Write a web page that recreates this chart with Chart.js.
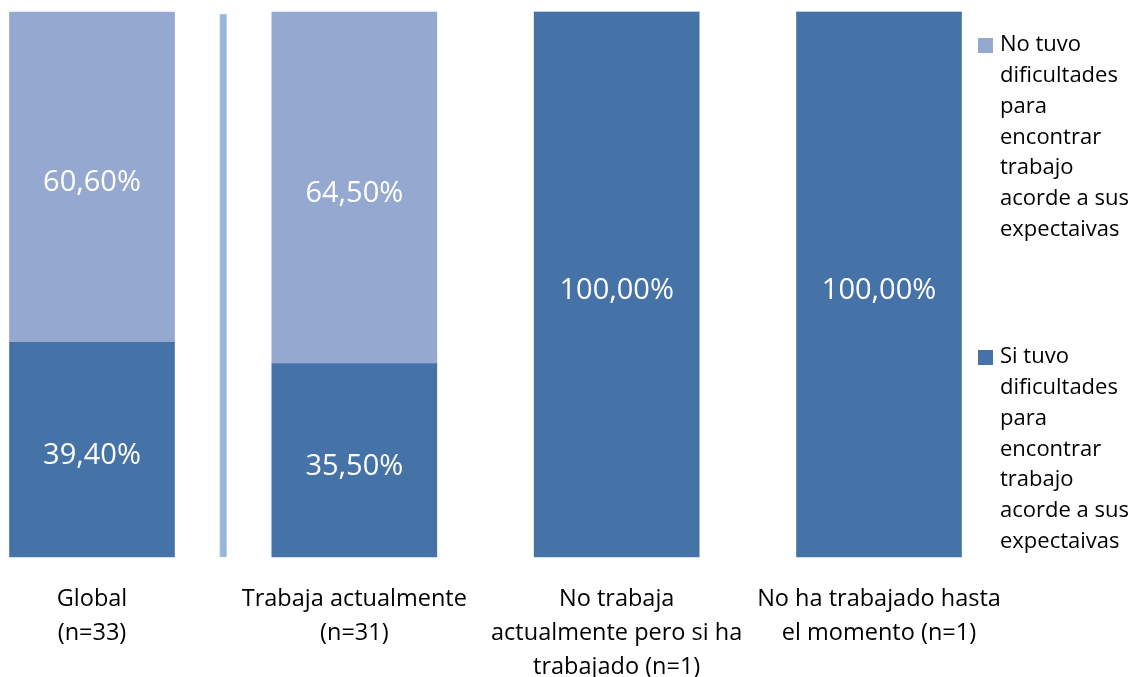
<!DOCTYPE html>
<html>
<head>
<meta charset="utf-8">
<script src="https://cdn.jsdelivr.net/npm/chart.js@4/dist/chart.umd.min.js"></script>
<style>
  html, body { margin: 0; padding: 0; background: #fff; }
  #wrap { width: 1138px; height: 677px; position: relative; }
</style>
</head>
<body>
<div id="wrap"><canvas id="barChart"></canvas></div>
<script>
// categorias (eje x, varias lineas)
const categories = [
    ['Global', '(n=33)'],
    ['Trabaja actualmente', '(n=31)'],
    ['No trabaja', 'actualmente pero si ha', 'trabajado (n=1)'],
    ['No ha trabajado hasta', 'el momento (n=1)']
];

// porcentajes por serie
const siTuvo = [39.4, 35.5, 100, 100];
const noTuvo = [60.6, 64.5, 0, 0];

// barra fina suelta entre Global y Trabaja actualmente
const thinBar = [{ x: 0.5, y: 99.6 }];

// textos de la leyenda (ya cortados en lineas)
const legendNo = ['No tuvo', 'dificultades', 'para', 'encontrar', 'trabajo', 'acorde a sus', 'expectaivas'];
const legendSi = ['Si tuvo', 'dificultades', 'para', 'encontrar', 'trabajo', 'acorde a sus', 'expectaivas'];

const DARK = '#4573A7';
const LIGHT = '#95A9D0';
const FONT = '"Open Sans", "Noto Sans", sans-serif';

const fmt = v => v.toFixed(2).replace('.', ',') + '%';

// etiquetas blancas dentro de cada tramo
const valueLabels = {
    id: 'valueLabels',
    afterDatasetsDraw(chart) {
        const ctx = chart.ctx;
        ctx.save();
        ctx.fillStyle = '#fff';
        ctx.font = '29px ' + FONT;
        ctx.textAlign = 'center';
        ctx.textBaseline = 'middle';
        [0, 1].forEach(di => {
            const meta = chart.getDatasetMeta(di);
            meta.data.forEach((bar, i) => {
                const v = chart.data.datasets[di].data[i];
                if (!v) return;
                ctx.fillText(fmt(v), bar.x, (bar.y + bar.base) / 2 + 6);
            });
        });
        ctx.restore();
    }
};

// leyenda a la derecha con texto en varias lineas
const sideLegend = {
    id: 'sideLegend',
    afterDraw(chart) {
        const ctx = chart.ctx;
        const items = [
            { lines: legendNo, color: LIGHT, top: 45 },
            { lines: legendSi, color: DARK, top: 357 }
        ];
        ctx.save();
        ctx.font = '22px ' + FONT;
        ctx.textBaseline = 'middle';
        ctx.textAlign = 'left';
        items.forEach(it => {
            ctx.fillStyle = it.color;
            ctx.fillRect(978, it.top - 7, 15, 15);
            ctx.fillStyle = '#000';
            it.lines.forEach((ln, k) => {
                ctx.fillText(ln, 1000, it.top + k * 30.8);
            });
        });
        ctx.restore();
    }
};

new Chart(document.getElementById('barChart'), {
    type: 'bar',
    data: {
        labels: categories,
        datasets: [
            {
                label: 'Si tuvo dificultades para encontrar trabajo acorde a sus expectaivas',
                data: siTuvo,
                backgroundColor: DARK,
                stack: 'main',
                barThickness: 165,
                xAxisID: 'x'
            },
            {
                label: 'No tuvo dificultades para encontrar trabajo acorde a sus expectaivas',
                data: noTuvo,
                backgroundColor: LIGHT,
                stack: 'main',
                barThickness: 165,
                xAxisID: 'x'
            },
            {
                label: '',
                data: thinBar,
                backgroundColor: '#9BB5DA',
                borderColor: '#B9CDE8',
                borderWidth: 1,
                barThickness: 7,
                stack: 'thin',
                xAxisID: 'x2'
            }
        ]
    },
    options: {
        responsive: true,
        maintainAspectRatio: false,
        animation: false,
        grouped: false,
        clip: false,
        layout: { padding: { left: 92, right: 259, top: 12, bottom: 0 } },
        plugins: {
            legend: { display: false },
            tooltip: { enabled: false }
        },
        scales: {
            x: {
                type: 'category',
                offset: false,
                grid: { display: false },
                border: { display: false },
                ticks: {
                    color: '#000',
                    font: { family: FONT, size: 23.5, lineHeight: 1.45 },
                    padding: 17,
                    maxRotation: 0,
                    autoSkip: false
                },
                afterFit: s => { s.height = 120; }
            },
            x2: {
                type: 'linear',
                display: false,
                min: 0,
                max: 3,
                offset: false
            },
            y: {
                stacked: true,
                display: false,
                min: 0,
                max: 100
            }
        }
    },
    plugins: [valueLabels, sideLegend]
});
</script>
</body>
</html>
